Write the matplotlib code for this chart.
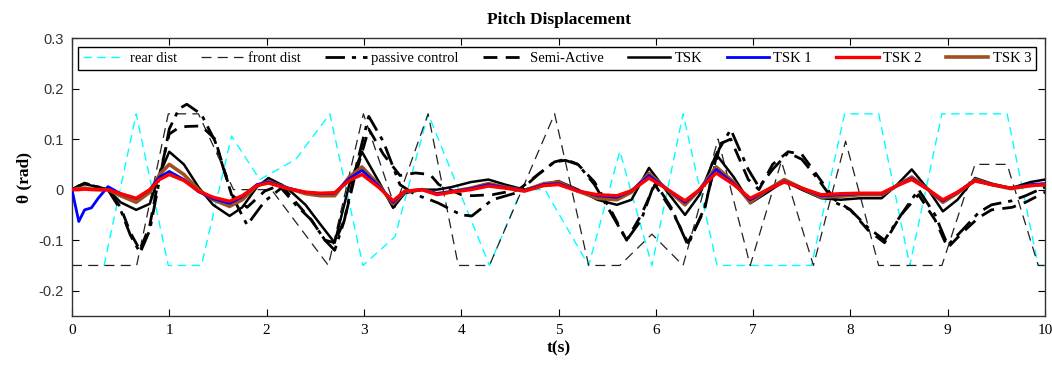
import numpy as np
import matplotlib
matplotlib.use("Agg")
import matplotlib.pyplot as plt

# disturbance inputs (piecewise linear)
t_rear = [0.33, 0.66, 0.99, 1.33, 1.64, 1.93, 2.3, 2.65, 2.99, 3.32, 3.66, 4.29, 4.62, 4.86,
          5.31, 5.63, 5.96, 6.28, 6.63, 7.6, 7.94, 8.29, 8.61, 8.94, 9.61, 9.93, 10.0]
rear_dist = [-0.15, 0.15, -0.15, -0.15, 0.106, 0.02, 0.06, 0.15, -0.15, -0.093, 0.15, -0.15, 0.0, 0.0,
             -0.15, 0.076, -0.15, 0.15, -0.15, -0.15, 0.15, 0.15, -0.15, 0.15, 0.15, -0.15, -0.15]

t_front = [0.0, 0.665, 0.99, 1.30, 1.66, 2.05, 2.635, 2.995, 3.32, 3.66, 3.97, 4.29, 4.96, 5.31,
           5.63, 5.96, 6.28, 6.64, 6.97, 7.29, 7.62, 7.95, 8.29, 8.94, 9.28, 9.61, 9.93, 10.0]
front_dist = [-0.15, -0.15, 0.15, 0.15, 0.0, 0.0, -0.15, 0.15, -0.035, 0.15, -0.15, -0.15, 0.15, -0.15,
              -0.15, -0.088, -0.15, 0.10, -0.15, 0.056, -0.15, 0.096, -0.15, -0.15, 0.05, 0.05, -0.15, -0.15]

# passive / semi-active responses
t_big = [0, 0.13, 0.37, 0.5, 0.6, 0.7, 0.8, 0.9, 1.0, 1.1, 1.18, 1.33, 1.47, 1.64, 1.8, 1.98,
         2.15, 2.3, 2.46, 2.6, 2.7, 2.8, 2.9, 3.05, 3.2, 3.37, 3.53, 3.68, 3.77, 4.0, 4.11, 4.32,
         4.59, 4.79, 4.96, 5.07, 5.2, 5.37, 5.55, 5.7, 5.85, 5.99, 6.16, 6.33, 6.5, 6.65, 6.77,
         6.95, 7.06, 7.2, 7.36, 7.5, 7.67, 7.84, 8.0, 8.18, 8.35, 8.52, 8.7, 8.87, 9.0, 9.15,
         9.32, 9.45, 9.66, 9.8, 10.0]
passive = [0, 0.013, 0.0, -0.04, -0.09, -0.125, -0.08, 0.02, 0.12, 0.16, 0.169, 0.149, 0.096, -0.01, -0.07, -0.023,
           0.003, -0.03, -0.06, -0.1, -0.12, -0.06, 0.03, 0.145, 0.095, 0.01, -0.01, -0.02, -0.027, -0.05, -0.052, -0.02,
           -0.005, 0.03, 0.055, 0.058, 0.05, 0.01, -0.05, -0.1, -0.06, 0.015, -0.036, -0.11, -0.036, 0.08, 0.119,
           0.04, 0.005, 0.04, 0.073, 0.06, 0.02, -0.025, -0.04, -0.075, -0.1, -0.05, 0.0, -0.05, -0.11, -0.08,
           -0.045, -0.03, -0.022, -0.012, 0.005]
semi_active = [0, 0.012, 0.0, -0.035, -0.085, -0.12, -0.07, 0.03, 0.11, 0.123, 0.125, 0.126, 0.1, -0.01, -0.035, -0.003,
               0.01, -0.025, -0.06, -0.1, -0.105, -0.06, 0.02, 0.12, 0.07, 0.028, 0.033, 0.03, 0.01, -0.01, -0.012, -0.01,
               0.0, 0.03, 0.055, 0.06, 0.05, 0.015, -0.045, -0.1, -0.05, 0.01, -0.04, -0.105, -0.04, 0.09, 0.1,
               0.02, 0.0, 0.05, 0.075, 0.07, 0.025, -0.02, -0.04, -0.08, -0.105, -0.05, -0.01, -0.06, -0.115, -0.085,
               -0.055, -0.04, -0.035, -0.025, -0.005]

# TSK controllers
t_ctrl = [0, 0.07, 0.13, 0.2, 0.27, 0.37, 0.5, 0.66, 0.8, 0.9, 1.0, 1.15, 1.3, 1.45, 1.62, 1.75,
          1.9, 2.02, 2.2, 2.4, 2.55, 2.7, 2.85, 2.98, 3.15, 3.3, 3.42, 3.6, 3.75, 3.9, 4.1, 4.28,
          4.45, 4.65, 4.85, 5.0, 5.2, 5.4, 5.6, 5.75, 5.93, 6.1, 6.3, 6.45, 6.62, 6.8, 6.97, 7.15,
          7.32, 7.5, 7.7, 7.9, 8.1, 8.32, 8.48, 8.63, 8.8, 8.95, 9.1, 9.28, 9.45, 9.65, 9.85, 10.0]
tsk = [0, 0.008, 0.011, 0.008, 0.004, 0.0, -0.025, -0.04, -0.028, 0.03, 0.075, 0.05, 0.005, -0.03, -0.052, -0.035,
       0.005, 0.023, 0.005, -0.03, -0.068, -0.105, 0.01, 0.075, 0.017, -0.036, -0.007, 0.0, 0.0, 0.005, 0.015, 0.02,
       0.01, 0.0, 0.01, 0.017, 0.0, -0.02, -0.03, -0.02, 0.043, 0.0, -0.05, -0.01, 0.07, 0.025, -0.027, -0.005,
       0.017, 0.0, -0.017, -0.02, -0.017, -0.017, 0.01, 0.04, 0.0, -0.043, -0.02, 0.023, 0.012, 0.003, 0.015, 0.02]
tsk1 = [0, -0.063, -0.04, -0.036, -0.017, 0.006, -0.008, -0.018, 0.0, 0.025, 0.036, 0.02, -0.004, -0.018, -0.027, -0.014,
        0.01, 0.015, 0.004, -0.005, -0.008, -0.007, 0.022, 0.038, 0.008, -0.025, -0.003, 0.0, -0.008, -0.004, 0.002, 0.01,
        0.004, -0.002, 0.01, 0.012, -0.002, -0.012, -0.015, -0.002, 0.028, 0.003, -0.025, 0.0, 0.04, 0.012, -0.02, 0.0,
        0.016, 0.003, -0.012, -0.01, -0.008, -0.008, 0.008, 0.022, 0.0, -0.022, -0.005, 0.018, 0.01, 0.003, 0.01, 0.012]
tsk2 = [0, 0.0, 0.001, 0.0, 0.0, 0.0, -0.008, -0.017, 0.0, 0.02, 0.03, 0.018, -0.003, -0.015, -0.023, -0.012,
        0.008, 0.013, 0.003, -0.005, -0.007, -0.006, 0.018, 0.03, 0.005, -0.022, -0.003, 0.0, -0.01, -0.005, 0.0, 0.007,
        0.003, -0.003, 0.008, 0.01, -0.003, -0.01, -0.012, -0.002, 0.023, 0.003, -0.022, 0.0, 0.033, 0.01, -0.017, 0.0,
        0.015, 0.003, -0.01, -0.008, -0.007, -0.007, 0.008, 0.02, 0.0, -0.02, -0.005, 0.017, 0.01, 0.003, 0.008, 0.01]
tsk3 = [0, 0.002, 0.003, 0.001, 0.0, 0.0, -0.012, -0.025, -0.005, 0.03, 0.05, 0.03, 0.0, -0.02, -0.033, -0.02,
        0.008, 0.016, 0.004, -0.008, -0.012, -0.012, 0.025, 0.045, 0.01, -0.028, -0.004, 0.0, -0.008, -0.004, 0.003, 0.012,
        0.005, -0.002, 0.012, 0.015, -0.003, -0.017, -0.02, -0.005, 0.032, 0.003, -0.03, 0.0, 0.045, 0.015, -0.025, 0.0,
        0.02, 0.003, -0.015, -0.013, -0.01, -0.01, 0.008, 0.025, 0.0, -0.025, -0.007, 0.02, 0.01, 0.002, 0.008, 0.01]

x_ticks = [0, 1, 2, 3, 4, 5, 6, 7, 8, 9, 10]
y_ticks = [-0.2, -0.1, 0, 0.1, 0.2, 0.3]
y_ticklabels = ["-0.2", "-0.1", "0", "0.1", "0.2", "0.3"]

SERIF = "Liberation Serif"
SANS = "Liberation Sans"

fig = plt.figure(figsize=(10.52, 3.69), dpi=100)
ax = fig.add_axes([0.0684, 0.1436, 0.925, 0.7534])

ax.plot(t_rear, rear_dist, color="#00FFFF", lw=1.0, dashes=(6, 4), label="rear dist", zorder=2)
ax.plot(t_front, front_dist, color="#222222", lw=0.9, dashes=(8, 5), label="front dist", zorder=2)
ax.plot(t_big, passive, color="black", lw=2.0, dashes=(7, 2.5, 1.5, 2.5), label="passive control", zorder=3)
ax.plot(t_big, semi_active, color="black", lw=2.0, dashes=(5, 3), label="Semi-Active", zorder=3)
ax.plot(t_ctrl, tsk, color="black", lw=1.8, label="TSK", zorder=4)
ax.plot(t_ctrl, tsk1, color="#0000FF", lw=2.0, label="TSK 1", zorder=6)
ax.plot(t_ctrl, tsk2, color="#FF0000", lw=2.4, label="TSK 2", zorder=7)
ax.plot(t_ctrl, tsk3, color="#A0501E", lw=2.6, label="TSK 3", zorder=5)

ax.set_xlim(0, 10)
ax.set_ylim(-0.25, 0.3)
ax.set_xticks(x_ticks)
ax.set_xticklabels([str(v) for v in x_ticks], fontfamily=SERIF, fontsize=11)
ax.set_yticks(y_ticks)
ax.set_yticklabels(y_ticklabels, fontfamily=SANS, fontsize=10.5, color="#333333")
ax.tick_params(direction="in", length=5, width=0.8, top=True, right=True, pad=6)
for spine in ax.spines.values():
    spine.set_linewidth(1.0)
    spine.set_color("#333333")

ax.set_title("Pitch Displacement", fontfamily=SERIF, fontweight="bold", fontsize=12.5, pad=10)
ax.set_xlabel("t(s)", fontfamily=SERIF, fontweight="bold", fontsize=12.5, labelpad=2)
ax.set_ylabel("θ (rad)", fontfamily=SERIF, fontweight="bold", fontsize=12.5, labelpad=4)

leg = ax.legend(loc="upper left", bbox_to_anchor=(0.006, 0.968, 0.985, 0.0), mode="expand",
                ncol=8, frameon=True, fancybox=False, edgecolor="black", framealpha=1,
                prop={"family": SERIF, "size": 10.5}, handlelength=2.9, handletextpad=0.3,
                columnspacing=0.8, borderpad=0.35, borderaxespad=0)
leg.get_frame().set_linewidth(1.0)

fig.savefig("out.png", dpi=100, facecolor="white")
